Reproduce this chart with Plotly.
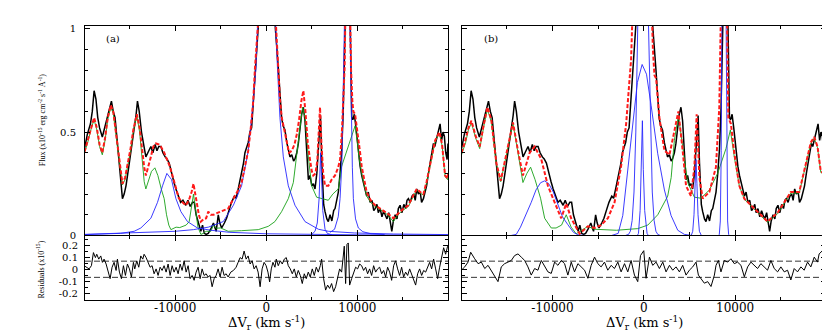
import plotly.graph_objects as go

# ---- data: (velocity km/s, flux 1e-15 erg/cm2/s/A) ----
obs = [
    (-19950, 0.42), (-19640, 0.49), (-19300, 0.54), (-19100, 0.60), (-18900, 0.70), (-18700, 0.66),
    (-18500, 0.57), (-18300, 0.52), (-18000, 0.476), (-17800, 0.51), (-17600, 0.55), (-17360, 0.586),
    (-17150, 0.62), (-17000, 0.65), (-16800, 0.60), (-16600, 0.57), (-16340, 0.445), (-16000, 0.30),
    (-15790, 0.178), (-15600, 0.20), (-15400, 0.24), (-15100, 0.33), (-14800, 0.42), (-14500, 0.52),
    (-14300, 0.58), (-14140, 0.65), (-13950, 0.60), (-13700, 0.50), (-13500, 0.445), (-13220, 0.38),
    (-13000, 0.40), (-12670, 0.43), (-12450, 0.40), (-12200, 0.44), (-12000, 0.41), (-11800, 0.43),
    (-11570, 0.43), (-11350, 0.40), (-11100, 0.38), (-10900, 0.37), (-10660, 0.35), (-10400, 0.30),
    (-10150, 0.26), (-9920, 0.225), (-9700, 0.20), (-9400, 0.16), (-9150, 0.17), (-8830, 0.146),
    (-8600, 0.17), (-8350, 0.14), (-8100, 0.16), (-7900, 0.16), (-7700, 0.10), (-7500, 0.067),
    (-7300, 0.04), (-7180, 0.02), (-7000, 0.05), (-6800, 0.01), (-6600, 0.005), (-6370, 0.01),
    (-6100, 0.03), (-5800, 0.06), (-5500, 0.02), (-5270, 0.10), (-5100, 0.06), (-4900, 0.036),
    (-4600, 0.06), (-4360, 0.083), (-4100, 0.12), (-3810, 0.16), (-3500, 0.19), (-3300, 0.18),
    (-3080, 0.225), (-2900, 0.26), (-2710, 0.30), (-2500, 0.35), (-2340, 0.40), (-2150, 0.43),
    (-1980, 0.45), (-1800, 0.50), (-1610, 0.52), (-1400, 0.66), (-1240, 0.81), (-1000, 1.05),
    (-700, 1.3), (-400, 1.5), (0, 1.6), (400, 1.5), (700, 1.25), (1000, 1.0), (1320, 0.81),
    (1500, 0.66), (1680, 0.57), (1850, 0.53), (2050, 0.51), (2250, 0.45), (2420, 0.41), (2600, 0.38),
    (2800, 0.39), (3000, 0.36), (3150, 0.37), (3350, 0.40), (3520, 0.445), (3700, 0.52), (3880, 0.586),
    (4070, 0.62), (4250, 0.555), (4450, 0.40), (4620, 0.27), (4800, 0.29), (5000, 0.24), (5170, 0.25),
    (5350, 0.225), (5550, 0.30), (5750, 0.45), (5950, 0.58), (6100, 0.35), (6300, 0.15), (6450, 0.115),
    (6650, 0.08), (6810, 0.067), (7000, 0.10), (7200, 0.07), (7400, 0.12), (7550, 0.13), (7750, 0.18),
    (7910, 0.21), (8100, 0.30), (8280, 0.41), (8450, 0.60), (8570, 0.81), (8750, 1.3), (8940, 1.6),
    (9120, 1.3), (9300, 0.81), (9380, 0.57), (9500, 0.56), (9670, 0.586), (9850, 0.52), (10000, 0.45),
    (10150, 0.38), (10300, 0.335), (10480, 0.29), (10660, 0.256), (10850, 0.22), (11020, 0.19),
    (11200, 0.21), (11400, 0.16), (11600, 0.17), (11800, 0.12), (11950, 0.13), (12150, 0.15),
    (12300, 0.11), (12500, 0.13), (12700, 0.09), (12900, 0.12), (13050, 0.10), (13250, 0.08),
    (13450, 0.11), (13600, 0.067), (13780, 0.02), (13950, 0.07), (14150, 0.10), (14350, 0.08),
    (14500, 0.13), (14690, 0.146), (14900, 0.11), (15100, 0.15), (15300, 0.13), (15450, 0.17),
    (15600, 0.178), (15800, 0.16), (16000, 0.19), (16200, 0.20), (16350, 0.17), (16520, 0.225),
    (16700, 0.20), (16900, 0.21), (17050, 0.16), (17250, 0.178), (17450, 0.21), (17600, 0.24),
    (17800, 0.30), (17990, 0.35), (18200, 0.40), (18350, 0.445), (18500, 0.43), (18710, 0.476),
    (18900, 0.50), (19080, 0.54), (19250, 0.46), (19400, 0.50), (19550, 0.48), (19700, 0.40),
    (19850, 0.367), (19950, 0.445),
]

# panel (a): Lorentzian fit
model_a = [
    (-19950, 0.405), (-19600, 0.46), (-19200, 0.53), (-18900, 0.57), (-18600, 0.52), (-18300, 0.44),
    (-18000, 0.40), (-17700, 0.47), (-17400, 0.57), (-17070, 0.63), (-16800, 0.60), (-16500, 0.50),
    (-16200, 0.41), (-16000, 0.33), (-15790, 0.25), (-15500, 0.28), (-15200, 0.35), (-14900, 0.42),
    (-14600, 0.51), (-14210, 0.586), (-13900, 0.52), (-13600, 0.40), (-13400, 0.33), (-13220, 0.29),
    (-12950, 0.33), (-12670, 0.38), (-12400, 0.43), (-12120, 0.445), (-11800, 0.44), (-11570, 0.43),
    (-11200, 0.40), (-10900, 0.37), (-10600, 0.335), (-10300, 0.29), (-9920, 0.225), (-9600, 0.18),
    (-9200, 0.16), (-8830, 0.146), (-8500, 0.17), (-8200, 0.21), (-7990, 0.25), (-7800, 0.20),
    (-7600, 0.146), (-7400, 0.10), (-7180, 0.067), (-6900, 0.078), (-6600, 0.083), (-6370, 0.115),
    (-6100, 0.10), (-5800, 0.10), (-5300, 0.11), (-4800, 0.12), (-4180, 0.13), (-3610, 0.178),
    (-3200, 0.21), (-2710, 0.256), (-2400, 0.32), (-1980, 0.41), (-1700, 0.52), (-1430, 0.65),
    (-1240, 0.81), (-1000, 1.05), (-600, 1.4), (0, 1.6), (600, 1.4), (1000, 1.05), (1320, 0.81),
    (1500, 0.66), (1700, 0.57), (2000, 0.50), (2230, 0.445), (2500, 0.40), (2800, 0.41), (3100, 0.44),
    (3350, 0.49), (3590, 0.555), (3850, 0.65), (4070, 0.70), (4300, 0.60), (4550, 0.45), (4800, 0.367),
    (5000, 0.31), (5160, 0.29), (5400, 0.30), (5600, 0.36), (5750, 0.48), (5900, 0.62), (6050, 0.45),
    (6250, 0.30), (6450, 0.24), (6810, 0.24), (7180, 0.27), (7550, 0.29), (7900, 0.33), (8100, 0.367),
    (8300, 0.50), (8460, 0.65), (8600, 0.81), (8760, 1.3), (8940, 1.6), (9120, 1.3), (9300, 0.81),
    (9450, 0.65), (9560, 0.60), (9750, 0.586), (9900, 0.54), (10110, 0.476), (10300, 0.40),
    (10470, 0.335), (10750, 0.27), (11020, 0.21), (11450, 0.17), (11950, 0.146), (12500, 0.13),
    (13050, 0.115), (13500, 0.10), (13960, 0.083), (14300, 0.10), (14690, 0.115), (15100, 0.13),
    (15600, 0.146), (16100, 0.19), (16520, 0.225), (16900, 0.21), (17250, 0.20), (17600, 0.26),
    (17990, 0.35), (18300, 0.41), (18540, 0.46), (19010, 0.50), (19300, 0.44), (19630, 0.29),
    (19900, 0.275), (19970, 0.30),
]

feii_a = [
    (-19950, 0.40), (-19600, 0.45), (-19200, 0.52), (-18900, 0.56), (-18600, 0.51), (-18300, 0.43),
    (-18000, 0.39), (-17700, 0.46), (-17400, 0.56), (-17070, 0.62), (-16800, 0.59), (-16500, 0.49),
    (-16200, 0.40), (-16000, 0.32), (-15790, 0.245), (-15500, 0.27), (-15200, 0.34), (-14900, 0.41),
    (-14600, 0.50), (-14210, 0.58), (-13900, 0.50), (-13600, 0.34), (-13400, 0.26), (-13220, 0.225),
    (-12950, 0.26), (-12600, 0.31), (-12230, 0.327), (-11900, 0.29), (-11500, 0.22), (-11210, 0.178),
    (-10950, 0.10), (-10700, 0.05), (-10470, 0.028), (-10200, 0.035), (-9900, 0.04), (-9500, 0.038),
    (-9100, 0.044), (-8800, 0.05), (-8460, 0.067), (-8250, 0.12), (-7990, 0.20), (-7750, 0.12),
    (-7500, 0.04), (-7180, 0.005), (-6900, 0.01), (-6600, 0.02), (-6080, 0.02), (-5800, 0.05),
    (-5500, 0.035), (-5000, 0.036), (-4180, 0.02), (-2710, 0.023), (-880, 0.028), (220, 0.044),
    (950, 0.067), (1680, 0.115), (2420, 0.178), (2970, 0.256), (3330, 0.40), (3700, 0.52),
    (3990, 0.62), (4250, 0.57), (4620, 0.38), (4980, 0.24), (5530, 0.185), (6260, 0.178),
    (6810, 0.17), (7300, 0.20), (7910, 0.225), (8280, 0.335), (8830, 0.41), (9380, 0.476),
    (9750, 0.53), (10000, 0.45), (10200, 0.37), (10470, 0.30), (10750, 0.24), (11020, 0.19),
    (11450, 0.16), (11950, 0.14), (12500, 0.125), (13050, 0.11), (13500, 0.09), (13960, 0.067),
    (14300, 0.09), (14690, 0.11), (15100, 0.125), (15600, 0.14), (16100, 0.185), (16520, 0.22),
    (16900, 0.205), (17250, 0.195), (17600, 0.255), (17990, 0.345), (18300, 0.405), (18540, 0.455),
    (19010, 0.495), (19300, 0.435), (19630, 0.285), (19900, 0.27), (19970, 0.295),
]

lines_a = [
    [(-20000, 0.004), (-18000, 0.006), (-16000, 0.01), (-14500, 0.02), (-13770, 0.036), (-12670, 0.083),
     (-11940, 0.16), (-11390, 0.24), (-10910, 0.30), (-10400, 0.27), (-9920, 0.178), (-9370, 0.115),
     (-8650, 0.067), (-7550, 0.036), (-6080, 0.025), (-4000, 0.015), (0, 0.008), (10000, 0.003),
     (20000, 0.001)],
    [(-20000, 0.005), (-15000, 0.012), (-10000, 0.02), (-8000, 0.028), (-6370, 0.04), (-4720, 0.067),
     (-3610, 0.146), (-2710, 0.24), (-1980, 0.41), (-1430, 0.65), (-1130, 0.81), (-800, 1.2), (-400, 1.8),
     (40, 2.2), (450, 1.8), (850, 1.2), (1230, 0.81), (1500, 0.57), (1870, 0.38), (2420, 0.24),
     (3150, 0.146), (4250, 0.067), (5720, 0.03), (6810, 0.02), (9670, 0.012), (14000, 0.007),
     (20000, 0.004)],
    [(5000, 0.005), (5350, 0.02), (5600, 0.06), (5800, 0.18), (5900, 0.32), (5970, 0.40), (6050, 0.30),
     (6200, 0.12), (6450, 0.03), (6700, 0.01), (7200, 0.003)],
    [(7000, 0.015), (7500, 0.03), (7900, 0.09), (8100, 0.178), (8300, 0.35), (8450, 0.65), (8570, 1.0),
     (8750, 1.9), (8880, 2.3), (9020, 1.9), (9200, 1.0), (9330, 0.6), (9450, 0.33), (9560, 0.178),
     (9800, 0.08), (10110, 0.036), (10600, 0.018), (11500, 0.008), (13000, 0.004)],
]

# panel (b): Gaussian fit
model_b = [
    (-19950, 0.40), (-19600, 0.45), (-19200, 0.52), (-18870, 0.555), (-18400, 0.48), (-17960, 0.43),
    (-17500, 0.54), (-17120, 0.62), (-16690, 0.56), (-16140, 0.35), (-15660, 0.264), (-15050, 0.40),
    (-14700, 0.48), (-14320, 0.547), (-13770, 0.41), (-13230, 0.29), (-12490, 0.40), (-11950, 0.43),
    (-11230, 0.37), (-10490, 0.24), (-9760, 0.16), (-9040, 0.083), (-8490, 0.154), (-7950, 0.083),
    (-7030, 0.008), (-6120, 0.044), (-5390, 0.036), (-4670, 0.05), (-3930, 0.083), (-3200, 0.16),
    (-2480, 0.335), (-1930, 0.54), (-1390, 0.85), (-1000, 1.3), (-500, 2.2), (0, 2.8), (500, 2.0),
    (800, 1.2), (1000, 0.9), (1170, 0.775), (1350, 0.76), (1710, 0.57), (2260, 0.41), (2810, 0.39),
    (3280, 0.49), (3790, 0.60), (4260, 0.41), (4630, 0.24), (5170, 0.19), (5540, 0.33), (5790, 0.586),
    (6090, 0.28), (6450, 0.178), (7180, 0.21), (7900, 0.33), (8270, 0.62), (8450, 1.1), (8780, 4.4),
    (9100, 1.1), (9260, 0.57), (9540, 0.54), (9910, 0.40), (10460, 0.24), (11010, 0.178),
    (12100, 0.13), (13550, 0.067), (14650, 0.11), (16100, 0.21), (17020, 0.21), (17740, 0.35),
    (18290, 0.45), (18660, 0.476), (19020, 0.43), (19380, 0.31), (19750, 0.30), (19970, 0.32),
]

feii_b = [
    (-19950, 0.39), (-19500, 0.45), (-19200, 0.51), (-18870, 0.545), (-18400, 0.47), (-17960, 0.42),
    (-17500, 0.53), (-17120, 0.61), (-16690, 0.55), (-16140, 0.345), (-15660, 0.26), (-15050, 0.39),
    (-14700, 0.47), (-14320, 0.54), (-13770, 0.40), (-13230, 0.256), (-12800, 0.30), (-12390, 0.33),
    (-11900, 0.27), (-11300, 0.18), (-10850, 0.083), (-10130, 0.036), (-9600, 0.036), (-9000, 0.05),
    (-8490, 0.10), (-7950, 0.04), (-7400, 0.008), (-6700, 0.03), (-6120, 0.044), (-5400, 0.03),
    (-3000, 0.025), (-660, 0.033), (440, 0.05), (1530, 0.10), (2620, 0.19), (3000, 0.28), (3350, 0.46),
    (3790, 0.58), (4260, 0.42), (4810, 0.256), (5540, 0.185), (6260, 0.18), (7180, 0.22), (8090, 0.30),
    (9000, 0.42), (9480, 0.51), (9910, 0.38), (10460, 0.24), (11010, 0.175), (12100, 0.125),
    (13550, 0.063), (14650, 0.105), (16100, 0.205), (17020, 0.205), (17740, 0.345), (18290, 0.445),
    (18660, 0.47), (19020, 0.425), (19380, 0.305), (19750, 0.295), (19970, 0.315),
]

lines_b = [
    [(-14500, 0.0), (-13960, 0.005), (-13500, 0.04), (-12900, 0.10), (-12320, 0.16), (-11800, 0.22),
     (-11300, 0.255), (-10850, 0.264), (-10400, 0.25), (-9900, 0.21), (-9400, 0.146), (-8900, 0.09),
     (-8310, 0.052), (-7700, 0.015), (-7210, 0.003), (-6500, 0.0)],
    [(-3500, 0.0), (-2800, 0.01), (-2300, 0.096), (-1750, 0.316), (-1200, 0.55), (-700, 0.74),
     (-180, 0.827), (300, 0.78), (800, 0.63), (1530, 0.395), (2260, 0.22), (2990, 0.096),
     (3720, 0.025), (4450, 0.005), (5200, 0.0)],
    [(-2000, 0.0), (-1670, 0.005), (-1470, 0.02), (-1270, 0.073), (-1070, 0.21), (-870, 0.50),
     (-656, 1.02), (-370, 1.87), (-71, 2.32), (230, 1.87), (514, 1.02), (730, 0.50), (930, 0.21),
     (1130, 0.073), (1330, 0.02), (1530, 0.005), (1800, 0.0)],
    [(-700, 0.0), (-580, 0.01), (-400, 0.12), (-250, 0.32), (-150, 0.555), (-50, 0.32), (100, 0.12),
     (360, 0.01), (500, 0.0)],
    [(5200, 0.0), (5360, 0.02), (5500, 0.10), (5620, 0.25), (5720, 0.367), (5820, 0.25), (5940, 0.10),
     (6090, 0.02), (6300, 0.0)],
    [(8200, 0.0), (8270, 0.005), (8380, 0.07), (8480, 0.41), (8543, 1.02), (8630, 2.45), (8780, 4.4),
     (8930, 2.45), (9017, 1.02), (9080, 0.41), (9180, 0.07), (9290, 0.005), (9400, 0.0)],
]

resid_a = [
    (-19900, 0.025), (-19707, 0.017), (-19451, 0.003), (-19195, 0.030), (-18975, 0.140), (-18756, 0.098),
    (-18609, 0.126), (-18390, 0.085), (-18170, 0.112), (-17987, 0.058), (-17804, 0.085), (-17584, 0.044),
    (-17365, -0.024), (-17145, -0.079), (-16926, 0.017), (-16706, 0.058), (-16486, -0.010), (-16340, 0.085),
    (-16120, -0.024), (-15901, -0.079), (-15681, 0.030), (-15462, -0.052), (-15242, 0.044), (-15022, 0.003),
    (-14803, -0.065), (-14583, 0.058), (-14437, 0.003), (-14217, 0.071), (-13998, 0.017), (-13778, 0.112),
    (-13558, 0.085), (-13412, 0.126), (-13192, 0.098), (-12973, 0.058), (-12753, 0.017), (-12534, 0.030),
    (-12314, -0.038), (-12094, 0.003), (-11875, -0.052), (-11655, 0.017), (-11436, -0.010), (-11216, 0.030),
    (-10996, -0.024), (-10777, 0.044), (-10557, -0.052), (-10338, 0.030), (-10118, -0.024), (-9898, 0.017),
    (-9679, -0.038), (-9459, 0.044), (-9240, -0.010), (-9020, 0.071), (-8800, -0.024), (-8581, 0.030),
    (-8361, -0.079), (-8142, -0.052), (-7922, -0.093), (-7702, -0.024), (-7483, 0.017), (-7263, -0.079),
    (-7044, 0.003), (-6824, -0.052), (-6604, -0.038), (-6385, -0.065), (-6165, -0.052), (-5946, -0.147),
    (-5726, -0.079), (-5506, -0.052), (-5287, 0.003), (-5067, -0.065), (-4848, 0.017), (-4628, -0.052),
    (-4408, -0.038), (-4189, -0.065), (-3896, -0.024), (-3603, -0.010), (-3310, 0.017), (-3091, 0.058),
    (-2871, 0.098), (-2652, 0.085), (-2432, 0.153), (-2212, 0.085), (-1993, 0.112), (-1773, 0.044),
    (-1554, 0.071), (-1334, 0.003), (-1114, 0.030), (-895, -0.024), (-675, -0.147), (-456, 0.003),
    (-236, 0.058), (-16, 0.030), (183, -0.024), (366, -0.106), (549, 0.003), (732, 0.058), (952, 0.017),
    (1098, 0.085), (1318, 0.030), (1537, 0.071), (1757, 0.044), (1976, 0.085), (2196, 0.098),
    (2416, 0.030), (2635, 0.003), (2855, -0.038), (3074, 0.003), (3294, -0.065), (3514, -0.010),
    (3733, -0.052), (3953, -0.120), (4172, -0.038), (4392, -0.079), (4612, -0.024), (4831, -0.065),
    (5051, 0.003), (5270, -0.052), (5490, 0.017), (5710, -0.024), (5929, 0.030), (6076, 0.085),
    (6295, -0.079), (6515, -0.175), (6734, -0.133), (6954, -0.161), (7174, -0.120), (7393, -0.188),
    (7613, -0.147), (7832, -0.065), (8052, 0.003), (8272, -0.024), (8418, 0.112), (8564, 0.194),
    (8711, -0.120), (8857, 0.208), (9004, 0.221), (9150, -0.133), (9370, -0.079), (9589, -0.024),
    (9809, 0.017), (10028, 0.003), (10248, 0.044), (10468, 0.030), (10687, -0.010), (10907, 0.017),
    (11126, -0.038), (11346, 0.003), (11566, -0.052), (11785, 0.030), (12005, -0.024), (12224, 0.003),
    (12444, 0.017), (12664, -0.038), (12883, -0.010), (13103, -0.065), (13322, 0.017), (13542, -0.024),
    (13762, -0.093), (13981, 0.030), (14201, 0.071), (14420, 0.003), (14640, -0.052), (14860, 0.017),
    (15079, -0.065), (15299, -0.024), (15518, -0.052), (15738, 0.003), (15958, -0.038), (16177, -0.079),
    (16397, -0.133), (16616, -0.038), (16836, 0.003), (17056, -0.052), (17275, -0.010), (17495, -0.024),
    (17714, 0.017), (17934, 0.058), (18154, 0.003), (18373, 0.085), (18593, 0.003), (18812, -0.079),
    (19032, 0.017), (19252, 0.112), (19471, 0.181), (19691, 0.126), (19910, 0.194),
]

resid_b = [
    (-19970, -0.008), (-19600, 0.02), (-19240, 0.06), (-18950, 0.143), (-18510, 0.088), (-18140, 0.047),
    (-17780, 0.06), (-17410, 0.006), (-17050, 0.033), (-16500, -0.035), (-15960, -0.104), (-15600, 0.02),
    (-15230, 0.047), (-14870, 0.06), (-14500, 0.074), (-14140, 0.115), (-13770, 0.129), (-13410, 0.102),
    (-13040, 0.074), (-12680, 0.02), (-12320, -0.049), (-11950, 0.006), (-11590, -0.008), (-11220, 0.074),
    (-10850, 0.02), (-10490, -0.022), (-10130, -0.035), (-9760, 0.06), (-9400, 0.033), (-9030, 0.074),
    (-8670, 0.047), (-8310, -0.049), (-7940, 0.06), (-7580, -0.022), (-7210, 0.047), (-6850, 0.02),
    (-6480, -0.008), (-6120, -0.076), (-5760, 0.033), (-5390, 0.102), (-5030, 0.047), (-4670, 0.02),
    (-4300, 0.06), (-3940, -0.008), (-3570, 0.033), (-3210, 0.006), (-2840, 0.06), (-2480, -0.022),
    (-2110, 0.047), (-1750, -0.022), (-1390, 0.074), (-1020, -0.049), (-660, -0.104), (-360, 0.115),
    (0, 0.156), (250, -0.076), (620, 0.102), (980, 0.033), (1350, 0.06), (1710, 0.006), (2080, 0.06),
    (2440, -0.022), (2810, 0.033), (3170, -0.008), (3530, 0.02), (3900, -0.022), (4260, 0.033),
    (4630, -0.049), (4990, -0.008), (5360, 0.02), (5720, 0.06), (5980, -0.049), (6270, -0.076),
    (6630, -0.117), (7000, -0.104), (7360, -0.145), (7730, -0.049), (7910, 0.033), (8170, 0.074),
    (8450, -0.022), (8820, 0.074), (9180, 0.06), (9540, 0.088), (9910, 0.047), (10270, 0.06),
    (10640, 0.033), (11010, -0.063), (11370, 0.02), (11730, 0.06), (12100, 0.033), (12460, 0.006),
    (12820, 0.047), (13190, 0.02), (13550, -0.008), (13920, 0.074), (14280, 0.006), (14650, -0.022),
    (15010, 0.02), (15380, -0.022), (15740, -0.008), (16100, -0.09), (16470, 0.006), (16830, -0.022),
    (17200, 0.02), (17560, -0.008), (17930, 0.06), (18290, 0.02), (18660, 0.102), (19020, 0.06),
    (19200, 0.129), (19560, 0.156), (19750, 0.102),
]

resid_band = 0.068
v_ticks = [-10000, 0, 10000]
v_ticktext = ["-10000", "0", "10000"]
flux_ticks = [0, 0.5, 1]
flux_ticktext = ["0", "0.5", "1"]
res_ticks = [-0.2, -0.1, 0, 0.1, 0.2]
res_ticktext = ["-0.2", "-0.1", "0", "0.1", "0.2"]

# ---- layout in pixels of the 830x332 page ----
W, H = 830, 332
def fx(p):
    return p / W
def fy(p):
    return 1 - p / H

V_RANGE = [-19900, 19950]
BLACK = "black"
RED = "#ff1a1a"
GREEN = "#17a017"
BLUE = "#2626ff"
SERIF = "DejaVu Serif"

fig = go.Figure()

def add_line(pts, xa, ya, color, width, dash=None):
    xs = [p[0] for p in pts]
    ys = [p[1] for p in pts]
    fig.add_trace(go.Scatter(x=xs, y=ys, xaxis=xa, yaxis=ya, mode="lines",
                             line=dict(color=color, width=width, dash=dash),
                             showlegend=False, hoverinfo="skip"))

for xa, ya, model, feii, comps in [("x", "y", model_a, feii_a, lines_a),
                                   ("x3", "y3", model_b, feii_b, lines_b)]:
    add_line(obs, xa, ya, BLACK, 1.5)
    add_line(feii, xa, ya, GREEN, 0.9)
    for c in comps:
        add_line(c, xa, ya, BLUE, 0.9)
    add_line(model, xa, ya, RED, 2, "4px,2px")

add_line(resid_a, "x2", "y2", BLACK, 1)
add_line(resid_b, "x4", "y4", BLACK, 1)

def axis(**kw):
    d = dict(showline=True, linecolor="black", linewidth=1, mirror="allticks",
             ticks="inside", ticklen=5, tickwidth=1, tickcolor="black",
             showgrid=False, zeroline=False, tickmode="array")
    d.update(kw)
    return d

def vx(dom, anchor, labels):
    return axis(domain=dom, anchor=anchor, range=V_RANGE, tickvals=v_ticks, ticktext=v_ticktext,
                showticklabels=labels, ticklabelstandoff=-3,
                tickfont=dict(family=SERIF, size=12, color="black"),
                minor=dict(ticks="inside", ticklen=3, tickcolor="black", tick0=0, dtick=5000))

dom_left = [fx(77), fx(440)]
dom_right = [fx(454), fx(818)]
dom_top = [fy(231), fy(16)]
dom_bot = [fy(297), fy(232)]

def fluxy(dom, anchor, labels):
    return axis(domain=dom, anchor=anchor, range=[0, 1.015], tickvals=flux_ticks,
                ticktext=flux_ticktext, showticklabels=labels, ticklabelstandoff=6,
                tickfont=dict(family=SERIF, size=10, color="black"),
                minor=dict(ticks="inside", ticklen=3, tickcolor="black", tick0=0, dtick=0.1))

def resy(dom, anchor, labels):
    return axis(domain=dom, anchor=anchor, range=[-0.257, 0.276], tickvals=res_ticks,
                ticktext=res_ticktext, showticklabels=labels, ticklabelstandoff=4,
                tickfont=dict(family=SERIF, size=10, color="black"),
                minor=dict(ticks="inside", ticklen=3, tickcolor="black", tick0=0, dtick=0.05))

fig.update_layout(
    width=W, height=H,
    margin=dict(l=0, r=0, t=0, b=0),
    paper_bgcolor="white", plot_bgcolor="white",
    showlegend=False,
    xaxis=vx(dom_left, "y", False),
    yaxis=fluxy(dom_top, "x", True),
    xaxis2=vx(dom_left, "y2", True),
    yaxis2=resy(dom_bot, "x2", True),
    xaxis3=vx(dom_right, "y3", False),
    yaxis3=fluxy(dom_top, "x3", False),
    xaxis4=vx(dom_right, "y4", True),
    yaxis4=resy(dom_bot, "x4", False),
)

for xr, yr in [("x2 domain", "y2"), ("x4 domain", "y4")]:
    for s in (1, -1):
        fig.add_shape(type="line", xref=xr, yref=yr, x0=0, x1=1, y0=s * resid_band, y1=s * resid_band,
                      line=dict(color="black", width=0.8, dash="6px,3px"))

ann = [
    dict(text="(a)", x=fx(105), y=fy(29), font=dict(family=SERIF, size=10)),
    dict(text="(b)", x=fx(483), y=fy(29), font=dict(family=SERIF, size=10)),
    dict(text="ΔV<sub>r</sub> (km s<sup>-1</sup>)", x=fx(258), y=fy(321), font=dict(family=SERIF, size=13)),
    dict(text="ΔV<sub>r</sub> (km s<sup>-1</sup>)", x=fx(636), y=fy(321), font=dict(family=SERIF, size=13)),
    dict(text="Flux (x10<sup>-15</sup> erg cm<sup>-2</sup> s<sup>-1</sup> Å<sup>-1</sup>)",
         x=fx(34), y=fy(113), textangle=-90, font=dict(family="Liberation Serif", size=8)),
    dict(text="Residuals (x10<sup>-15</sup>)", x=fx(32), y=fy(266), textangle=-90,
         font=dict(family="Liberation Serif", size=8)),
]
for a in ann:
    a["font"]["color"] = "black"
    fig.add_annotation(xref="paper", yref="paper", showarrow=False, xanchor="center", yanchor="middle", **a)

fig.write_html("out.html")
